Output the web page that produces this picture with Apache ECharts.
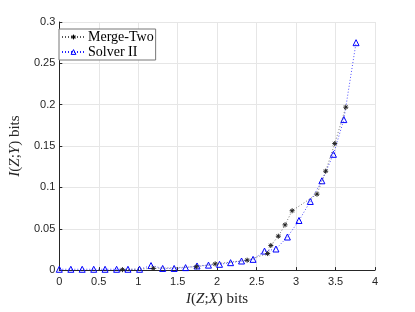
<!DOCTYPE html>
<html><head><meta charset="utf-8">
<script src="https://cdn.jsdelivr.net/npm/echarts@6/dist/echarts.min.js"></script>
<style>html,body{margin:0;padding:0;background:#fff}#c{width:415px;height:312px}</style>
</head><body><div id="c"></div>
<script>
const mergeX = [0.80, 1.19, 1.736, 1.975, 2.38, 2.64, 2.68, 2.775, 2.86, 2.95, 3.265, 3.375, 3.49, 3.63];
const mergeY = [0.0005, 0.002, 0.004, 0.0075, 0.012, 0.02, 0.0298, 0.041, 0.0547, 0.0718, 0.0918, 0.1196, 0.153, 0.197];
const solverX = [0, 0.146, 0.29, 0.436, 0.58, 0.726, 0.87, 1.017, 1.162, 1.31, 1.455, 1.6, 1.745, 1.89, 2.03, 2.17, 2.309, 2.455, 2.60, 2.745, 2.89, 3.037, 3.18, 3.327, 3.473, 3.605, 3.76];
const solverY = [0.001, 0.001, 0.001, 0.001, 0.001, 0.001, 0.001, 0.001, 0.0055, 0.002, 0.002, 0.003, 0.005, 0.006, 0.007, 0.009, 0.011, 0.013, 0.023, 0.0255, 0.040, 0.060, 0.083, 0.108, 0.14, 0.182, 0.275];
const seriesNames = ['Merge-Two', 'Solver II'];
const xTicks = [0, 0.5, 1, 1.5, 2, 2.5, 3, 3.5, 4];
const yTicks = [0, 0.05, 0.1, 0.15, 0.2, 0.25, 0.3];

const zip = (a, b) => a.map((v, i) => [v, b[i]]);
const axisCol = '#262626';
const serif = '"Liberation Serif", "DejaVu Serif", serif';
const sans = '"Liberation Sans", Arial, sans-serif';
const star = 'path://M5,0L5,10M0,5L10,5M1.5,1.5L8.5,8.5M1.5,8.5L8.5,1.5';
const titleStyle = {
  fontFamily: serif, fontSize: 15, color: axisCol,
  rich: {
    i: {fontFamily: serif, fontStyle: 'italic', fontSize: 15, color: axisCol},
    n: {fontFamily: serif, fontSize: 15, color: axisCol}
  }
};

const chart = echarts.init(document.getElementById('c'), null, {renderer: 'canvas'});
chart.setOption({
  animation: false,
  grid: {left: 54, right: 40, top: 22, bottom: 35},
  legend: {
    orient: 'vertical', left: 59, top: 29,
    data: [
      {name: seriesNames[0], itemStyle: {color: '#000', borderColor: '#000', borderWidth: 1}},
      {name: seriesNames[1], itemStyle: {color: 'rgba(255,255,255,0)', borderColor: '#0000ff', borderWidth: 1}}
    ],
    backgroundColor: '#fff', borderColor: '#777', borderWidth: 1,
    padding: [1, 2, 1, 2], itemGap: 1, itemWidth: 23, itemHeight: 6,
    textStyle: {fontFamily: serif, fontSize: 14, color: '#000', padding: [0, 0, 0, -2]}
  },
  xAxis: {
    type: 'value', min: xTicks[0], max: xTicks[xTicks.length - 1], interval: 0.5,
    name: '{i|I}{n|(}{i|Z}{n|;}{i|X}{n|) bits}', nameLocation: 'middle', nameGap: 21,
    nameTextStyle: titleStyle,
    axisLine: {lineStyle: {color: axisCol, width: 1}},
    axisTick: {inside: true, length: 3, lineStyle: {color: axisCol}},
    axisLabel: {fontFamily: sans, fontSize: 11, color: axisCol, margin: 6, formatter: v => String(v)},
    splitLine: {show: true, lineStyle: {color: '#e6e6e6', width: 1}}
  },
  yAxis: {
    type: 'value', min: yTicks[0], max: yTicks[yTicks.length - 1], interval: 0.05,
    name: '{i|I}{n|(}{i|Z}{n|;}{i|Y}{n|) bits}', nameLocation: 'middle', nameGap: 27, nameRotate: 90,
    nameTextStyle: titleStyle,
    axisLine: {show: true, lineStyle: {color: axisCol, width: 1}},
    axisTick: {show: true, inside: true, length: 3, lineStyle: {color: axisCol}},
    axisLabel: {fontFamily: sans, fontSize: 11, color: axisCol, margin: 4, formatter: v => String(Math.round(v * 100) / 100)},
    splitLine: {show: true, lineStyle: {color: '#e6e6e6', width: 1}}
  },
  series: [
    {
      name: seriesNames[0], type: 'line', data: zip(mergeX, mergeY), z: 3,
      symbol: star, symbolSize: 5, showAllSymbol: true,
      lineStyle: {color: '#555', width: 0.8, type: [1, 2]},
      itemStyle: {color: '#000', borderColor: '#222', borderWidth: 1}
    },
    {
      name: seriesNames[1], type: 'line', data: zip(solverX, solverY), z: 2,
      symbol: 'triangle', symbolSize: 6, showAllSymbol: true,
      lineStyle: {color: '#2222ff', width: 0.8, type: [1, 2]},
      itemStyle: {color: 'rgba(255,255,255,0)', borderColor: '#0000ff', borderWidth: 1}
    }
  ]
});
</script></body></html>
